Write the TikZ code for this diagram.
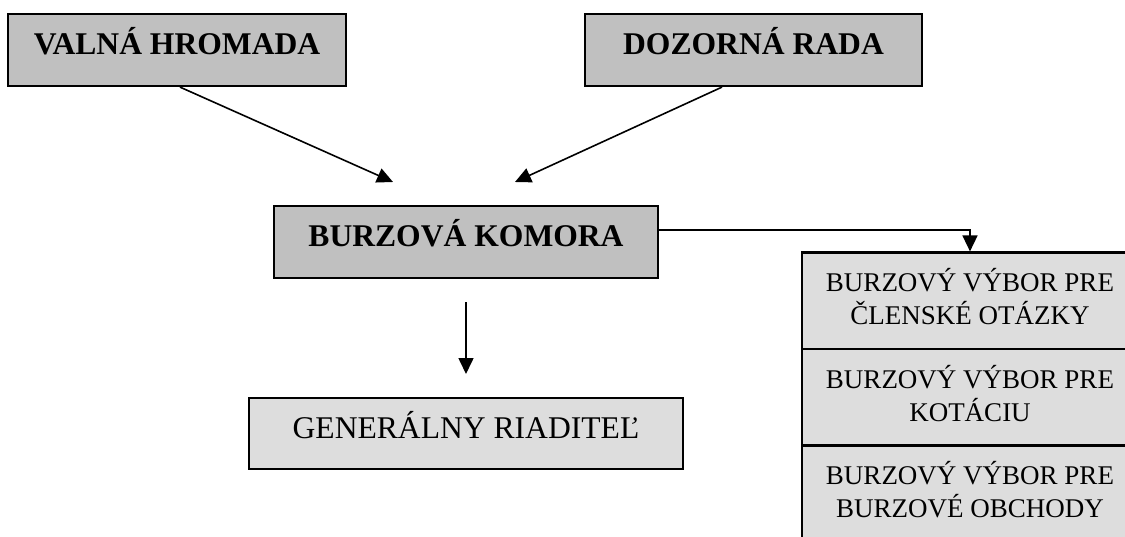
\documentclass[tikz,border=0pt]{standalone}
\usepackage{fontspec}
\setmainfont{Liberation Serif}
\usetikzlibrary{arrows.meta}
\definecolor{boxdark}{HTML}{C0C0C0}
\definecolor{boxlight}{HTML}{DDDDDD}

\begin{document}
\begin{tikzpicture}[x=1pt,y=-1pt,
  head/.style={draw, line width=2.2pt, fill=boxdark, minimum height=72pt,
    inner sep=0pt, text height=40pt, text depth=32pt,
    font=\fontsize{31.6}{38}\selectfont\bfseries},
  plainbox/.style={draw, line width=2.2pt, fill=boxlight, minimum height=71pt,
    inner sep=0pt, text height=40pt, text depth=31pt,
    font=\fontsize{31.6}{38}\selectfont},
  cell/.style={draw, line width=2.2pt, fill=boxlight, minimum width=336pt,
    minimum height=97pt, inner sep=0pt, align=center,
    text height=72pt, text depth=25pt, font=\fontsize{27}{33}\selectfont},
  conn/.style={line width=1.6pt, -{Triangle[length=16pt,width=15pt]}}]
  \useasboundingbox (0,0) rectangle (1125,536);
  \node [head, minimum width=338pt] at (177,50) (vh) {VALNÁ HROMADA};
  \node [head, minimum width=337pt] at (753.5,50) (dr) {DOZORNÁ RADA};
  \node [head, minimum width=384pt] at (466,242) (bk) {BURZOVÁ KOMORA};
  \node [plainbox, minimum width=434pt] at (466,433.5) (gr) {GENERÁLNY RIADITEĽ};
  \node [cell] at (970,301) (v1) {BURZOVÝ VÝBOR PRE\\ČLENSKÉ OTÁZKY};
  \node [cell] at (970,397.5) (v2) {BURZOVÝ VÝBOR PRE\\KOTÁCIU};
  \node [cell] at (970,494) (v3) {BURZOVÝ VÝBOR PRE\\BURZOVÉ OBCHODY};
  \coordinate (vhend) at (393,182);
  \coordinate (drend) at (515,182);
  \coordinate (bkout) at (466,302);
  \coordinate (grin) at (466,374);
  \draw [conn] ([xshift=3pt]vh.south) -- (vhend);
  \draw [conn] ([xshift=-31.5pt]dr.south) -- (drend);
  \draw [conn] (bkout) -- (grin);
  \draw [conn] ([yshift=12pt]bk.east) -| (v1.north);
\end{tikzpicture}
\end{document}
